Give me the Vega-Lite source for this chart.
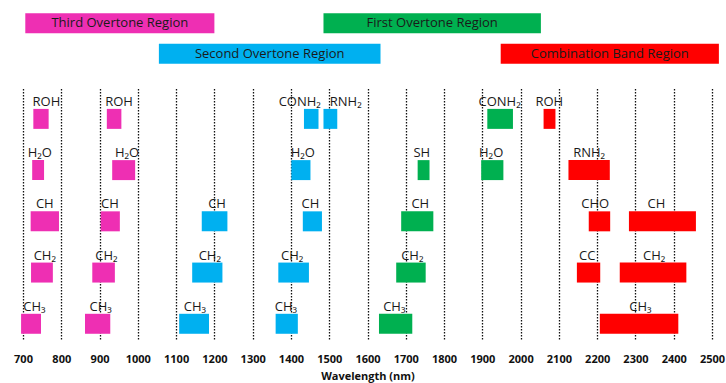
{
  "$schema": "https://vega.github.io/schema/vega-lite/v6.json",
  "autosize": {"type": "none"},
  "width": 689,
  "height": 251,
  "padding": {"left": 23, "top": 88, "right": 14, "bottom": 44},
  "background": "white",
  "config": {
    "view": {"stroke": null},
    "font": "Open Sans",
    "axisX": {
      "domain": false,
      "ticks": false,
      "grid": true,
      "gridColor": "#111111",
      "gridDash": [1.5, 1.5],
      "gridWidth": 1.3,
      "gridOpacity": 1,
      "format": "d",
      "labelOverlap": false,
      "labelFlush": false,
      "labelFont": "Open Sans",
      "labelFontWeight": "bold",
      "labelFontSize": 11,
      "labelColor": "#111111",
      "labelPadding": 14,
      "titleFont": "Open Sans",
      "titleFontWeight": "bold",
      "titleFontSize": 11,
      "titleColor": "#111111",
      "titlePadding": 6
    }
  },
  "datasets": {
    "regions": [
      {"region": "Third Overtone Region", "lane": "upper", "start": 706, "end": 1200},
      {"region": "Second Overtone Region", "lane": "lower", "start": 1055, "end": 1634},
      {"region": "First Overtone Region", "lane": "upper", "start": 1485, "end": 2053},
      {"region": "Combination Band Region", "lane": "lower", "start": 1948, "end": 2518}
    ],
    "bands": [
      {"region": "Third Overtone Region", "label": "ROH", "row": 1, "start": 727, "end": 767, "label_nm": 761},
      {"region": "Third Overtone Region", "label": "H₂O", "row": 2, "start": 724, "end": 755, "label_nm": 744},
      {"region": "Third Overtone Region", "label": "CH", "row": 3, "start": 720, "end": 794, "label_nm": 757},
      {"region": "Third Overtone Region", "label": "CH₂", "row": 4, "start": 721, "end": 778, "label_nm": 757},
      {"region": "Third Overtone Region", "label": "CH₃", "row": 5, "start": 695, "end": 747, "label_nm": 730},
      {"region": "Third Overtone Region", "label": "ROH", "row": 1, "start": 919, "end": 957, "label_nm": 951},
      {"region": "Third Overtone Region", "label": "H₂O", "row": 2, "start": 933, "end": 993, "label_nm": 972},
      {"region": "Third Overtone Region", "label": "CH", "row": 3, "start": 903, "end": 953, "label_nm": 927},
      {"region": "Third Overtone Region", "label": "CH₂", "row": 4, "start": 881, "end": 940, "label_nm": 918},
      {"region": "Third Overtone Region", "label": "CH₃", "row": 5, "start": 862, "end": 928, "label_nm": 903},
      {"region": "Second Overtone Region", "label": "CH", "row": 3, "start": 1167, "end": 1234, "label_nm": 1207},
      {"region": "Second Overtone Region", "label": "CH₂", "row": 4, "start": 1142, "end": 1221, "label_nm": 1188},
      {"region": "Second Overtone Region", "label": "CH₃", "row": 5, "start": 1108, "end": 1186, "label_nm": 1149},
      {"region": "Second Overtone Region", "label": "CONH₂", "row": 1, "start": 1434, "end": 1472, "label_nm": 1423},
      {"region": "Second Overtone Region", "label": "RNH₂", "row": 1, "start": 1485, "end": 1521, "label_nm": 1543},
      {"region": "Second Overtone Region", "label": "H₂O", "row": 2, "start": 1401, "end": 1451, "label_nm": 1431},
      {"region": "Second Overtone Region", "label": "CH", "row": 3, "start": 1431, "end": 1481, "label_nm": 1451},
      {"region": "Second Overtone Region", "label": "CH₂", "row": 4, "start": 1367, "end": 1447, "label_nm": 1403},
      {"region": "Second Overtone Region", "label": "CH₃", "row": 5, "start": 1360, "end": 1418, "label_nm": 1387},
      {"region": "First Overtone Region", "label": "SH", "row": 2, "start": 1731, "end": 1762, "label_nm": 1742},
      {"region": "First Overtone Region", "label": "CH", "row": 3, "start": 1688, "end": 1772, "label_nm": 1738},
      {"region": "First Overtone Region", "label": "CH₂", "row": 4, "start": 1675, "end": 1752, "label_nm": 1717},
      {"region": "First Overtone Region", "label": "CH₃", "row": 5, "start": 1630, "end": 1717, "label_nm": 1670},
      {"region": "First Overtone Region", "label": "CONH₂", "row": 1, "start": 1913, "end": 1980, "label_nm": 1945},
      {"region": "First Overtone Region", "label": "H₂O", "row": 2, "start": 1897, "end": 1955, "label_nm": 1923},
      {"region": "Combination Band Region", "label": "ROH", "row": 1, "start": 2060, "end": 2091, "label_nm": 2075},
      {"region": "Combination Band Region", "label": "RNH₂", "row": 2, "start": 2125, "end": 2233, "label_nm": 2179},
      {"region": "Combination Band Region", "label": "CHO", "row": 3, "start": 2178, "end": 2234, "label_nm": 2195},
      {"region": "Combination Band Region", "label": "CH", "row": 3, "start": 2283, "end": 2458, "label_nm": 2355},
      {"region": "Combination Band Region", "label": "CC", "row": 4, "start": 2147, "end": 2208, "label_nm": 2174},
      {"region": "Combination Band Region", "label": "CH₂", "row": 4, "start": 2259, "end": 2433, "label_nm": 2349},
      {"region": "Combination Band Region", "label": "CH₃", "row": 5, "start": 2207, "end": 2412, "label_nm": 2313}
    ]
  },
  "layer": [
    {
      "data": {"name": "bands"},
      "encoding": {
        "y": {
          "field": "row",
          "type": "ordinal",
          "axis": null,
          "scale": {"domain": [1, 2, 3, 4, 5], "paddingInner": 0.61, "paddingOuter": 0.255, "align": 0.8}
        }
      },
      "layer": [
        {
          "mark": {"type": "bar"},
          "encoding": {
            "x": {
              "field": "start",
              "type": "quantitative",
              "title": "Wavelength (nm)",
              "scale": {"domain": [700, 2500], "nice": false, "zero": false},
              "axis": {"values": [700, 800, 900, 1000, 1100, 1200, 1300, 1400, 1500, 1600, 1700, 1800, 1900, 2000, 2100, 2200, 2300, 2400, 2500]}
            },
            "x2": {"field": "end"},
            "color": {
              "field": "region",
              "type": "nominal",
              "legend": null,
              "scale": {
                "domain": ["Third Overtone Region", "Second Overtone Region", "First Overtone Region", "Combination Band Region"],
                "range": ["#EE2FB3", "#00B0F0", "#00B050", "#FF0000"]
              }
            }
          }
        },
        {
          "mark": {"type": "text", "fontSize": 13, "color": "#1a1a1a", "align": "center", "baseline": "alphabetic", "dy": -13},
          "encoding": {
            "x": {
              "field": "label_nm",
              "type": "quantitative",
              "title": "Wavelength (nm)",
              "axis": {"values": [700, 800, 900, 1000, 1100, 1200, 1300, 1400, 1500, 1600, 1700, 1800, 1900, 2000, 2100, 2200, 2300, 2400, 2500]}
            },
            "text": {"field": "label"}
          }
        }
      ]
    },
    {
      "data": {"name": "regions"},
      "encoding": {
        "y": {
          "field": "lane",
          "type": "nominal",
          "axis": null,
          "scale": {"domain": ["upper", "lower"], "range": [-88, -11], "paddingInner": 0.344, "paddingOuter": 0.436}
        }
      },
      "layer": [
        {
          "mark": {"type": "bar"},
          "encoding": {
            "x": {
              "field": "start",
              "type": "quantitative",
              "title": "Wavelength (nm)",
              "axis": {"values": [700, 800, 900, 1000, 1100, 1200, 1300, 1400, 1500, 1600, 1700, 1800, 1900, 2000, 2100, 2200, 2300, 2400, 2500]}
            },
            "x2": {"field": "end"},
            "color": {"field": "region", "type": "nominal", "legend": null}
          }
        },
        {
          "transform": [{"calculate": "(datum.start + datum.end) / 2", "as": "mid"}],
          "mark": {"type": "text", "fontSize": 13, "color": "#1a1a1a", "align": "center", "baseline": "middle"},
          "encoding": {
            "x": {
              "field": "mid",
              "type": "quantitative",
              "title": "Wavelength (nm)",
              "axis": {"values": [700, 800, 900, 1000, 1100, 1200, 1300, 1400, 1500, 1600, 1700, 1800, 1900, 2000, 2100, 2200, 2300, 2400, 2500]}
            },
            "text": {"field": "region"}
          }
        }
      ]
    }
  ],
  "resolve": {"scale": {"y": "independent"}}
}
